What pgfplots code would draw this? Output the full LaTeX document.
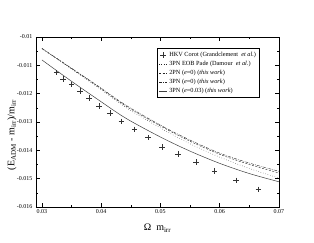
\documentclass[border=0pt]{standalone}
\usepackage{fontspec}
\setmainfont{Liberation Serif}
\usepackage{pgfplots}
\pgfplotsset{compat=1.18}
\pgfplotsset{
  shortline/.style={legend image code/.code={\draw[##1] (0pt,0pt) -- (8pt,0pt);}},
  shortmark/.style={legend image code/.code={\draw[##1] plot coordinates {(4pt,0pt)};}},
}
\begin{document}
\begin{tikzpicture}
\path[use as bounding box] (0,0) rectangle (314pt,243pt);
\begin{axis}[
  at={(36pt,36pt)}, anchor=south west, scale only axis,
  width=243pt, height=170pt,
  xmin=0.029, xmax=0.07, ymin=-0.016, ymax=-0.01,
  xtick={0.03,0.04,0.05,0.06,0.07},
  minor xtick={0.035,0.045,0.055,0.065},
  ytick={-0.016,-0.015,-0.014,-0.013,-0.012,-0.011,-0.01},
  minor ytick={-0.0155,-0.0145,-0.0135,-0.0125,-0.0115,-0.0105},
  scaled x ticks=false, scaled y ticks=false,
  tick align=inside, major tick length=4pt, minor tick length=2pt,
  tick style={line width=0.5pt, black},
  axis line style={line width=0.6pt},
  /pgf/number format/.cd, fixed, precision=3, assume math mode=true, /pgfplots/.cd,
  tick label style={font=\fontsize{6}{7}\selectfont},
  xticklabel style={yshift=1pt},
  xlabel={Ω\ \ m\textsubscript{irr}},
  ylabel={(E\textsubscript{ADM} - m\textsubscript{irr})/m\textsubscript{irr}},
  label style={font=\fontsize{10}{12}\selectfont},
  x label style={at={(axis description cs:0.5,-0.124)}, anchor=center},
  y label style={at={(axis description cs:-0.099,0.424)}, anchor=center},
  legend style={at={(axis description cs:0.498,0.934)}, anchor=north west,
    font=\fontsize{6.3}{7.5}\selectfont, draw=black, line width=0.5pt,
    inner sep=1.5pt, row sep=-0.8pt, cells={anchor=west}},
]
\addplot[only marks, mark=+, mark size=2.8pt, line width=0.4pt, black!80, shortmark]
 coordinates {
 (0.03249,-0.01126) (0.03360,-0.01148) (0.03501,-0.01167) (0.03640,-0.01191)
 (0.03797,-0.01215) (0.03965,-0.01244) (0.04145,-0.01269) (0.04341,-0.01298)
 (0.04565,-0.01326) (0.04788,-0.01355) (0.05024,-0.01389) (0.05292,-0.01413)
 (0.05602,-0.01441) (0.05914,-0.01472) (0.06274,-0.01506) (0.06654,-0.01538)
 };
\addlegendentry{HKV Corot (Grandclement \ \textit{et al.})}
\addplot[black!85, dotted, line width=0.45pt, smooth, shortline] coordinates {
 (0.030,-0.01042) (0.0347,-0.01109) (0.0394,-0.01177) (0.0441,-0.01248)
 (0.0499,-0.01320) (0.0549,-0.01376) (0.0600,-0.01424) (0.0650,-0.01464)
 (0.0700,-0.01498)
 };
\addlegendentry{3PN EOB Pade (Damour \ \textit{et al.})}
\addplot[black!85, dash pattern=on 2pt off 1.5pt, line width=0.4pt, smooth, shortline] coordinates {
 (0.030,-0.01041) (0.0347,-0.01107) (0.0394,-0.01174) (0.0441,-0.01243)
 (0.0499,-0.01313) (0.0549,-0.01367) (0.0600,-0.01414) (0.0650,-0.01450)
 (0.0700,-0.01480)
 };
\addlegendentry{2PN (\textit{e}=0) (\textit{this work})}
\addplot[black!85, dash pattern=on 3pt off 1.2pt on 0.6pt off 1.2pt, line width=0.4pt, smooth, shortline] coordinates {
 (0.030,-0.01040) (0.0347,-0.01106) (0.0394,-0.01172) (0.0441,-0.01240)
 (0.0499,-0.01310) (0.0549,-0.01363) (0.0600,-0.01410) (0.0650,-0.01445)
 (0.0700,-0.01474)
 };
\addlegendentry{3PN (\textit{e}=0) (\textit{this work})}
\addplot[black!75, solid, line width=0.5pt, smooth, shortline] coordinates {
 (0.030,-0.01081) (0.0347,-0.01152) (0.0394,-0.01220) (0.0441,-0.01286)
 (0.0499,-0.01352) (0.0549,-0.01402) (0.0600,-0.01446) (0.0650,-0.01482)
 (0.0700,-0.01511)
 };
\addlegendentry{3PN (\textit{e}=0.03) (\textit{this work})}
\end{axis}
\end{tikzpicture}
\end{document}
